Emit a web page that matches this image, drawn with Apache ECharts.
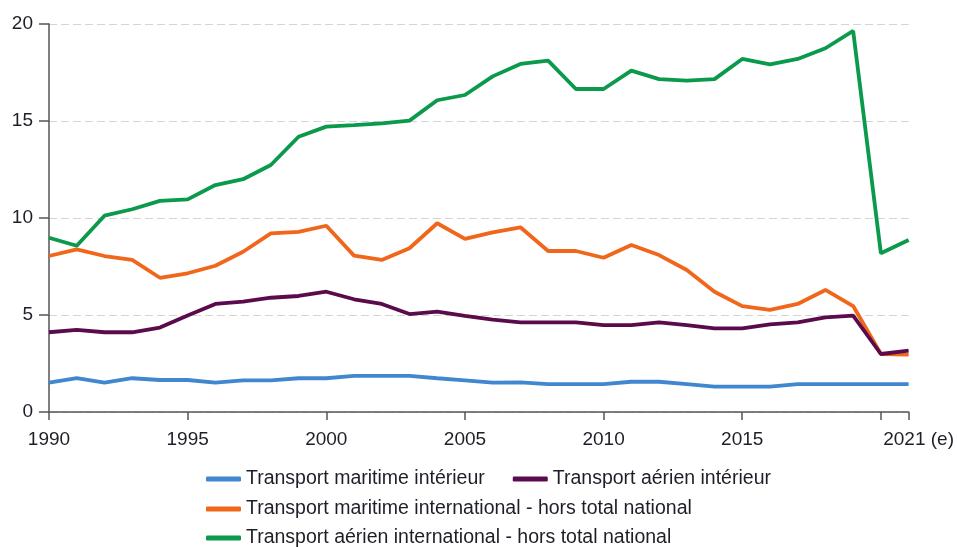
<!DOCTYPE html>
<html>
<head>
<meta charset="utf-8">
<script src="https://cdn.jsdelivr.net/npm/echarts@6/dist/echarts.min.js"></script>
<style>html,body{margin:0;padding:0;background:#fff;}#c{width:957px;height:547px;}</style>
</head>
<body>
<div id="c"></div>
<script>
var years = ["1990","1991","1992","1993","1994","1995","1996","1997","1998","1999","2000","2001","2002","2003","2004","2005","2006","2007","2008","2009","2010","2011","2012","2013","2014","2015","2016","2017","2018","2019","2020","2021"];
var names = ["Transport maritime intérieur","Transport aérien intérieur","Transport maritime international - hors total national","Transport aérien international - hors total national"];
var maritimeInterieur = [1.51,1.74,1.51,1.74,1.65,1.65,1.51,1.63,1.63,1.74,1.74,1.86,1.86,1.86,1.74,1.63,1.51,1.53,1.44,1.44,1.44,1.56,1.56,1.44,1.31,1.31,1.31,1.44,1.44,1.44,1.44,1.44];
var aerienInterieur = [4.11,4.23,4.11,4.11,4.35,4.97,5.57,5.69,5.89,5.98,6.2,5.81,5.57,5.05,5.17,4.95,4.76,4.62,4.62,4.62,4.48,4.48,4.62,4.48,4.31,4.31,4.52,4.62,4.88,4.97,2.99,3.16];
var maritimeInternational = [8.04,8.38,8.04,7.84,6.92,7.15,7.54,8.26,9.21,9.29,9.6,8.06,7.84,8.44,9.73,8.92,9.26,9.52,8.3,8.3,7.95,8.61,8.09,7.32,6.2,5.46,5.26,5.57,6.29,5.46,2.99,2.96];
var aerienInternational = [8.98,8.57,10.12,10.45,10.88,10.96,11.7,12.0,12.73,14.19,14.71,14.79,14.88,15.02,16.07,16.34,17.3,17.94,18.11,16.65,16.65,17.6,17.16,17.08,17.16,18.2,17.92,18.2,18.75,19.64,8.18,8.87];
var yTicks = [0,5,10,15,20];

var colors = ['#4187cf','#5b0b4c','#f0661a','#0b994b'];
var seriesData = [maritimeInterieur, aerienInterieur, maritimeInternational, aerienInternational];
var FONT = 'Liberation Sans, Arial, sans-serif';

var chart = echarts.init(document.getElementById('c'));
var legendText = {fontFamily:FONT, fontSize:19.5, color:'#1e1e28'};
var legendBase = {icon:'roundRect', itemWidth:35, itemHeight:5, itemGap:28, textStyle:legendText, orient:'horizontal', padding:0};
chart.setOption({
  animation:false,
  color: colors,
  grid:{left:49, right:46, top:24, bottom:135},
  legend:[
    Object.assign({}, legendBase, {left:206, top:469, data:[names[0], names[1]]}),
    Object.assign({}, legendBase, {left:206, top:499, data:[names[2]]}),
    Object.assign({}, legendBase, {left:206, top:528, data:[names[3]]})
  ],
  xAxis:{
    type:'category', data:years, boundaryGap:false,
    axisLine:{lineStyle:{color:'#555', width:1.5}},
    axisTick:{show:true, length:8, lineStyle:{color:'#555', width:1.5},
      interval:function(i,v){var y=+v; return y%5===0 || y===2021;}},
    axisLabel:{
      interval:function(i,v){var y=+v; return (y%5===0 && y<2020) || y===2021;},
      formatter:function(v){ return v==='2021' ? '{e|2021 (e)}' : v; },
      rich:{e:{padding:[0,0,0,20], fontFamily:FONT, fontSize:19, color:'#1e1e28'}},
      fontFamily:FONT, fontSize:19, color:'#1e1e28', margin:18
    },
    splitLine:{show:false}
  },
  yAxis:{
    type:'value', min:yTicks[0], max:yTicks[yTicks.length-1], interval:5,
    axisLine:{show:true, lineStyle:{color:'#555', width:1.5}},
    axisTick:{show:true, length:10, lineStyle:{color:'#555', width:1.5}},
    axisLabel:{fontFamily:FONT, fontSize:19, color:'#1e1e28', margin:16},
    splitLine:{show:true, lineStyle:{color:'#d4d4d4', type:[8,4], width:1.2}}
  },
  series: seriesData.map(function(d,i){
    return {name:names[i], type:'line', data:d, symbol:'none', z:2+(i===1?1:0),
      lineStyle:{width:3.8, color:colors[i]}, itemStyle:{color:colors[i]}};
  })
});
</script>
</body>
</html>
